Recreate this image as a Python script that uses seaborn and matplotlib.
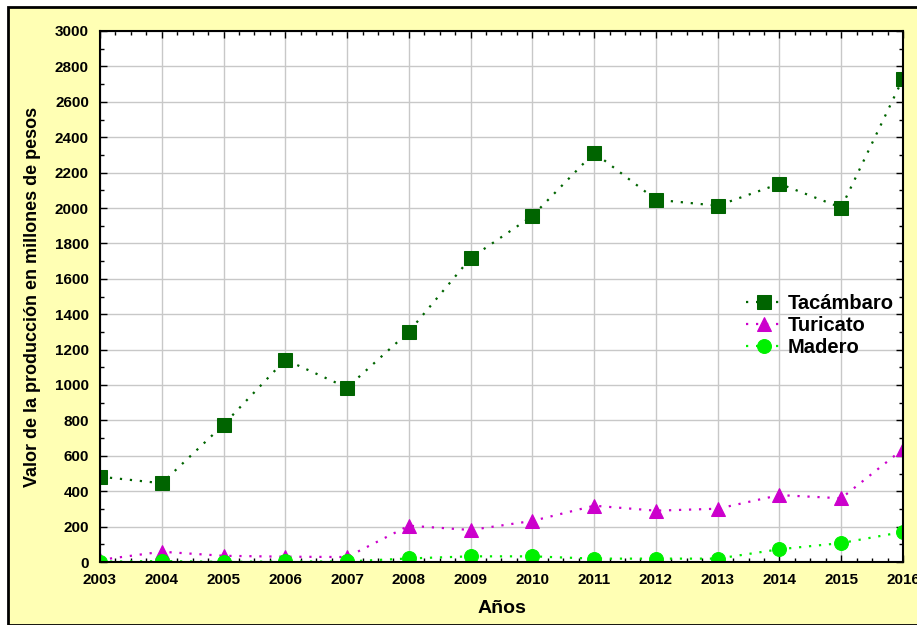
import numpy as np
import seaborn as sns
import matplotlib.pyplot as plt
import matplotlib.ticker as ticker
from matplotlib.patches import Rectangle

years = list(range(2003, 2017))
tacambaro = [482, 445, 776, 1143, 985, 1301, 1717, 1955, 2313, 2047, 2013, 2137, 2002, 2731]
turicato = [12, 58, 35, 30, 28, 205, 181, 232, 318, 290, 301, 378, 360, 638]
madero = [2, 5, 1, 3, 3, 20, 32, 32, 19, 19, 19, 72, 107, 170]

series_names = ['Tacámbaro', 'Turicato', 'Madero']
series_colors = ['#006400', '#CC00CC', '#00F000']
series_markers = ['s', '^', 'o']

sns.set_style('ticks')
plt.rcParams['font.family'] = ['Liberation Sans', 'DejaVu Sans']
plt.rcParams['font.weight'] = 'bold'
plt.rcParams['text.color'] = 'black'
plt.rcParams['axes.labelcolor'] = 'black'

fig = plt.figure(figsize=(9.17, 6.25), dpi=100, facecolor='white')
# yellow panel with black frame behind the axes
fig.patches.append(Rectangle((8 / 917, 0), 1, (625 - 7) / 625, transform=fig.transFigure,
                             facecolor='#FFFFB4', edgecolor='black', linewidth=2, zorder=-10))
ax = fig.add_axes([100 / 917, 63 / 625, 803 / 917, 531 / 625])
ax.set_facecolor('white')

for vals, name, col, mk in zip([tacambaro, turicato, madero], series_names, series_colors, series_markers):
    sns.lineplot(x=years, y=vals, ax=ax, color=col, marker=mk, markersize=10,
                 markeredgecolor=col, linestyle=(0, (1, 3.5)), linewidth=1.6, label=name)

ax.set_xlim(2003, 2016)
ax.set_ylim(0, 3000)
ax.xaxis.set_major_locator(ticker.MultipleLocator(1))
ax.xaxis.set_minor_locator(ticker.MultipleLocator(0.25))
ax.yaxis.set_major_locator(ticker.MultipleLocator(200))
ax.yaxis.set_minor_locator(ticker.MultipleLocator(100))
ax.grid(True, which='major', color='#C8C8C8', linewidth=1)
ax.tick_params(which='both', direction='in', top=True, right=True, labelsize=11, width=1, colors='black')
ax.tick_params(which='major', length=5)
ax.tick_params(which='minor', length=3)
for lbl in ax.get_xticklabels() + ax.get_yticklabels():
    lbl.set_fontweight('bold')
ax.tick_params(axis='x', pad=8)
ax.tick_params(axis='y', pad=8)
for s in ax.spines.values():
    s.set_color('black')
    s.set_linewidth(1.5)

ax.set_xlabel('Años', fontsize=14, fontweight='bold')
ax.xaxis.set_label_coords(0.5, -0.072)
ax.set_ylabel('Valor de la producción en millones de pesos', fontsize=13, fontweight='bold')
ax.yaxis.set_label_coords(-0.074, 0.5)

leg = ax.legend(loc='upper left', bbox_to_anchor=(0.795, 0.52), frameon=False,
                prop={'size': 14.5, 'weight': 'bold'}, handlelength=1.7, handletextpad=0.35,
                labelspacing=0.15, borderaxespad=0)
for t in leg.get_texts():
    t.set_color('black')

fig.savefig('out.png', dpi=100, facecolor=fig.get_facecolor())
